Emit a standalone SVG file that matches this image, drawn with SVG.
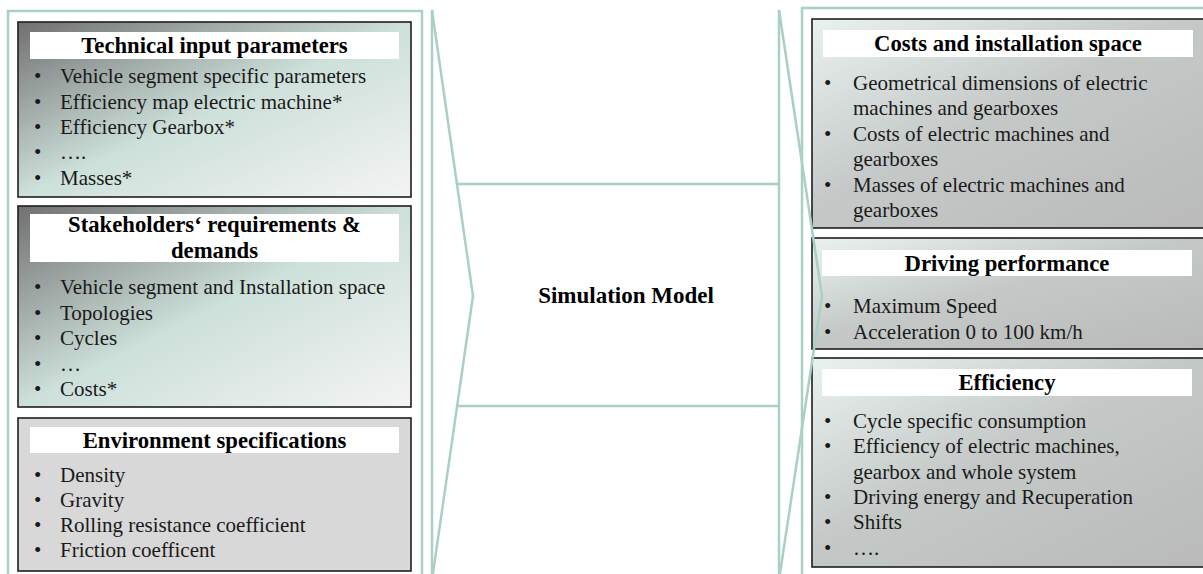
<svg xmlns="http://www.w3.org/2000/svg" width="1203" height="574" viewBox="0 0 1203 574">
<style>
.t{font-family:"Liberation Serif","Times New Roman",serif;font-weight:bold;font-size:22.7px;text-anchor:middle;fill:#000}
.b{font-family:"Liberation Serif","Times New Roman",serif;font-size:21px;fill:#1a1a1a}
.box{stroke:#1e1e1e;stroke-width:1.6}
.fr{fill:none;stroke:#a9d0c4;stroke-width:2.5}
.band{fill:#fff}
</style>
<defs>
<linearGradient id="gL" x1="0" y1="0" x2="1" y2="1">
<stop offset="0" stop-color="#707070"/>
<stop offset="0.5" stop-color="#cde0da"/>
<stop offset="1" stop-color="#f4f4f4"/>
</linearGradient>
<linearGradient id="gR" x1="0" y1="0" x2="1" y2="1">
<stop offset="0" stop-color="#eaf2ef"/>
<stop offset="0.45" stop-color="#c4c9c7"/>
<stop offset="1" stop-color="#b9b9b9"/>
</linearGradient>
</defs>
<rect width="1203" height="574" fill="#fff"/>
<g id="frames">
<rect class="fr" x="8" y="11" width="414" height="590"/>
<rect class="fr" x="802" y="8" width="430" height="590"/>
</g>
<g id="technical-input">
<rect class="box" x="18" y="22" width="393" height="175" fill="url(#gL)"/>
<rect class="band" x="30" y="32" width="369" height="27"/>
<text class="t" x="214.5" y="53">Technical input parameters</text>
<text class="b"><tspan x="34" y="83">•</tspan><tspan x="60" y="83">Vehicle segment specific parameters</tspan>
<tspan x="34" y="108.5">•</tspan><tspan x="60" y="108.5">Efficiency map electric machine*</tspan>
<tspan x="34" y="134">•</tspan><tspan x="60" y="134">Efficiency Gearbox*</tspan>
<tspan x="34" y="159">•</tspan><tspan x="60" y="159">….</tspan>
<tspan x="34" y="184.5">•</tspan><tspan x="60" y="184.5">Masses*</tspan></text>
</g>
<g id="stakeholders">
<rect class="box" x="18" y="206" width="393" height="201" fill="url(#gL)"/>
<rect class="band" x="30" y="214" width="369" height="48"/>
<text class="t" x="214.5" y="232">Stakeholders‘ requirements &amp;</text>
<text class="t" x="214.5" y="258">demands</text>
<text class="b"><tspan x="34" y="294">•</tspan><tspan x="60" y="294">Vehicle segment and Installation space</tspan>
<tspan x="34" y="319.5">•</tspan><tspan x="60" y="319.5">Topologies</tspan>
<tspan x="34" y="345">•</tspan><tspan x="60" y="345">Cycles</tspan>
<tspan x="34" y="370.5">•</tspan><tspan x="60" y="370.5">…</tspan>
<tspan x="34" y="395.5">•</tspan><tspan x="60" y="395.5">Costs*</tspan></text>
</g>
<g id="environment">
<rect class="box" x="18" y="418" width="393" height="153" fill="#d8d8d8"/>
<rect class="band" x="30" y="427" width="369" height="26"/>
<text class="t" x="214.5" y="448">Environment specifications</text>
<text class="b"><tspan x="34" y="482">•</tspan><tspan x="60" y="482">Density</tspan>
<tspan x="34" y="507">•</tspan><tspan x="60" y="507">Gravity</tspan>
<tspan x="34" y="532">•</tspan><tspan x="60" y="532">Rolling resistance coefficient</tspan>
<tspan x="34" y="557">•</tspan><tspan x="60" y="557">Friction coefficent</tspan></text>
</g>
<g id="simulation-model">
<text class="t" x="626" y="303" style="font-size:23px">Simulation Model</text>
</g>
<g id="costs">
<rect class="box" x="812" y="19" width="420" height="209" fill="url(#gR)"/>
<rect class="band" x="823" y="30" width="370" height="27"/>
<text class="t" x="1008" y="51">Costs and installation space</text>
<text class="b"><tspan x="824" y="89.5">•</tspan><tspan x="853" y="89.5">Geometrical dimensions of electric</tspan>
<tspan x="853" y="115">machines and gearboxes</tspan>
<tspan x="824" y="140.5">•</tspan><tspan x="853" y="140.5">Costs of electric machines and</tspan>
<tspan x="853" y="166">gearboxes</tspan>
<tspan x="824" y="191.5">•</tspan><tspan x="853" y="191.5">Masses of electric machines and</tspan>
<tspan x="853" y="217">gearboxes</tspan></text>
</g>
<g id="driving">
<rect class="box" x="812" y="238" width="420" height="111" fill="url(#gR)"/>
<rect class="band" x="822" y="250" width="370" height="26"/>
<text class="t" x="1007" y="270.5">Driving performance</text>
<text class="b"><tspan x="824" y="313">•</tspan><tspan x="853" y="313">Maximum Speed</tspan>
<tspan x="824" y="338.5">•</tspan><tspan x="853" y="338.5">Acceleration 0 to 100 km/h</tspan></text>
</g>
<g id="efficiency">
<rect class="box" x="812" y="358" width="420" height="209" fill="url(#gR)"/>
<rect class="band" x="822" y="369" width="370" height="27"/>
<text class="t" x="1007" y="390">Efficiency</text>
<text class="b"><tspan x="824" y="428">•</tspan><tspan x="853" y="428">Cycle specific consumption</tspan>
<tspan x="824" y="453">•</tspan><tspan x="853" y="453">Efficiency of electric machines,</tspan>
<tspan x="853" y="478.5">gearbox and whole system</tspan>
<tspan x="824" y="504">•</tspan><tspan x="853" y="504">Driving energy and Recuperation</tspan>
<tspan x="824" y="529">•</tspan><tspan x="853" y="529">Shifts</tspan>
<tspan x="824" y="555">•</tspan><tspan x="853" y="555">….</tspan></text>
</g>
<g id="connectors" class="fr">
<line x1="432" y1="10" x2="432" y2="580"/>
<polyline points="432,10 473,296 432,580"/>
<line x1="779" y1="10" x2="779" y2="580"/>
<polyline points="779,10 822,296 779,580"/>
<line x1="457" y1="184" x2="779" y2="184"/>
<line x1="457" y1="406" x2="779" y2="406"/>
</g>
</svg>
